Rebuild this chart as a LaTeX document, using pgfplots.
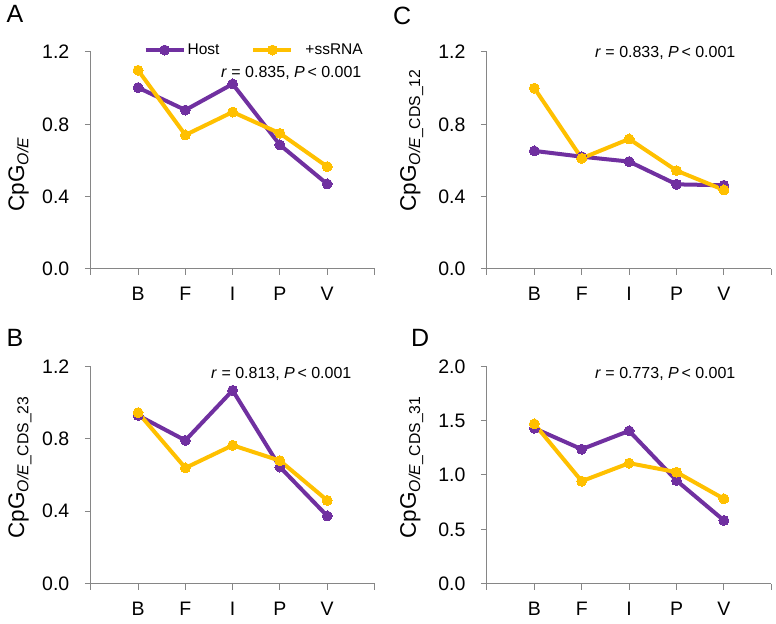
\documentclass[border=0pt]{standalone}
\usepackage{fontspec}
\setmainfont{Liberation Sans}
\usepackage{pgfplots}
\pgfplotsset{compat=1.18}
\definecolor{hostc}{HTML}{7030A0}
\definecolor{ssc}{HTML}{FFC000}
\definecolor{axisgray}{HTML}{868686}
\pgfplotstableread{
x  hA    sA    hB    sB    hC    sC    hD    sD
0  1.003 1.099 0.929 0.944 0.653 1.000 1.430 1.470
1  0.879 0.741 0.791 0.639 0.621 0.612 1.237 0.943
2  1.023 0.868 1.067 0.764 0.594 0.719 1.406 1.109
3  0.686 0.750 0.644 0.679 0.468 0.544 0.949 1.026
4  0.470 0.566 0.374 0.460 0.463 0.437 0.582 0.781
}\data
\pgfplotsset{
  panel/.style={
    scale only axis,
    anchor=south west,
    xmin=-1, xmax=5, ymin=0,
    axis x line=bottom, axis y line=left,
    axis line style={-, draw=axisgray, line width=1bp},
    xtick={-1,0,1,2,3,4,5},
    xticklabels={,B,F,I,P,V,},
    tick align=outside,
    major tick length=6bp,
    tick style={draw=axisgray, line width=1bp},
    tick label style={font=\fontsize{19.5bp}{22bp}\selectfont, text=black},
    xticklabel style={yshift=-9bp},
    /pgf/number format/assume math mode=true,
    yticklabel style={xshift=-12bp, /pgf/number format/fixed, /pgf/number format/precision=1, /pgf/number format/fixed zerofill},
    clip=false,
    ylabel style={font=\fontsize{22.5bp}{25bp}\selectfont, anchor=base west},
  },
  hostl/.style={draw=hostc, line width=4bp, mark=*, mark size=5bp, mark options={fill=hostc, draw=hostc, line width=0bp}},
  ssl/.style={draw=ssc, line width=4bp, mark=*, mark size=5bp, mark options={fill=ssc, draw=ssc, line width=0bp}},
}
\newcommand{\ann}[1]{\fontsize{16bp}{19bp}\selectfont\textit{r} = #1, \textit{P}\,< 0.001}
\begin{document}
\begin{tikzpicture}[x=1bp,y=1bp]
\useasboundingbox (0,0) rectangle (776,624);
% Panel A
\begin{axis}[panel, at={(90.8bp,355bp)}, width=283.7bp, height=217bp,
  ymax=1.2, ytick={0,0.4,0.8,1.2},
  ylabel={CpG\textsubscript{\textit{O/E}}},
  ylabel style={at={(rel axis cs:-0.235,0.249)}},
  legend columns=2,
  legend style={at={(rel axis cs:0.175,1.009)}, anchor=west, draw=none, fill=none,
    font=\fontsize{15.5bp}{18bp}\selectfont, /tikz/every even column/.append style={column sep=30bp}},
  legend image code/.code={\draw[mark repeat=2,mark phase=2,#1] plot coordinates {(0bp,0bp) (19bp,0bp) (38bp,0bp)};},
]
\addplot[hostl] table[x=x,y=hA]{\data};
\addlegendentry{Host}
\addplot[ssl] table[x=x,y=sA]{\data};
\addlegendentry{\hspace{10bp}+ssRNA}
\node[anchor=east] at (rel axis cs:0.966,0.903) {\ann{0.835}};
\end{axis}
\node[anchor=base west, font=\fontsize{25bp}{28bp}\selectfont, inner sep=0] at (6.5,624-23) {A};
% Panel C
\begin{axis}[panel, at={(486.9bp,355bp)}, width=284.4bp, height=217bp,
  ymax=1.2, ytick={0,0.4,0.8,1.2},
  ylabel={CpG\textsubscript{\textit{O/E}\_CDS\_12}},
  ylabel style={at={(rel axis cs:-0.250,0.249)}},
]
\addplot[hostl] table[x=x,y=hC]{\data};
\addplot[ssl] table[x=x,y=sC]{\data};
\node[anchor=east] at (rel axis cs:0.886,0.995) {\ann{0.833}};
\end{axis}
\node[anchor=base west, font=\fontsize{25bp}{28bp}\selectfont, inner sep=0] at (393,624-25) {C};
% Panel B
\begin{axis}[panel, at={(90.8bp,40.3bp)}, width=283.7bp, height=217.4bp,
  ymax=1.2, ytick={0,0.4,0.8,1.2},
  ylabel={CpG\textsubscript{\textit{O/E}\_CDS\_23}},
  ylabel style={at={(rel axis cs:-0.235,0.192)}},
]
\addplot[hostl] table[x=x,y=hB]{\data};
\addplot[ssl] table[x=x,y=sB]{\data};
\node[anchor=east] at (rel axis cs:0.931,0.965) {\ann{0.813}};
\end{axis}
\node[anchor=base west, font=\fontsize{25bp}{28bp}\selectfont, inner sep=0] at (6.5,624-347) {B};
% Panel D
\begin{axis}[panel, at={(486.9bp,40.3bp)}, width=284.4bp, height=217.4bp,
  ymax=2, ytick={0,0.5,1,1.5,2},
  ylabel={CpG\textsubscript{\textit{O/E}\_CDS\_31}},
  ylabel style={at={(rel axis cs:-0.250,0.192)}},
]
\addplot[hostl] table[x=x,y=hD]{\data};
\addplot[ssl] table[x=x,y=sD]{\data};
\node[anchor=east] at (rel axis cs:0.886,0.965) {\ann{0.773}};
\end{axis}
\node[anchor=base west, font=\fontsize{25bp}{28bp}\selectfont, inner sep=0] at (411,624-347) {D};
\end{tikzpicture}
\end{document}
